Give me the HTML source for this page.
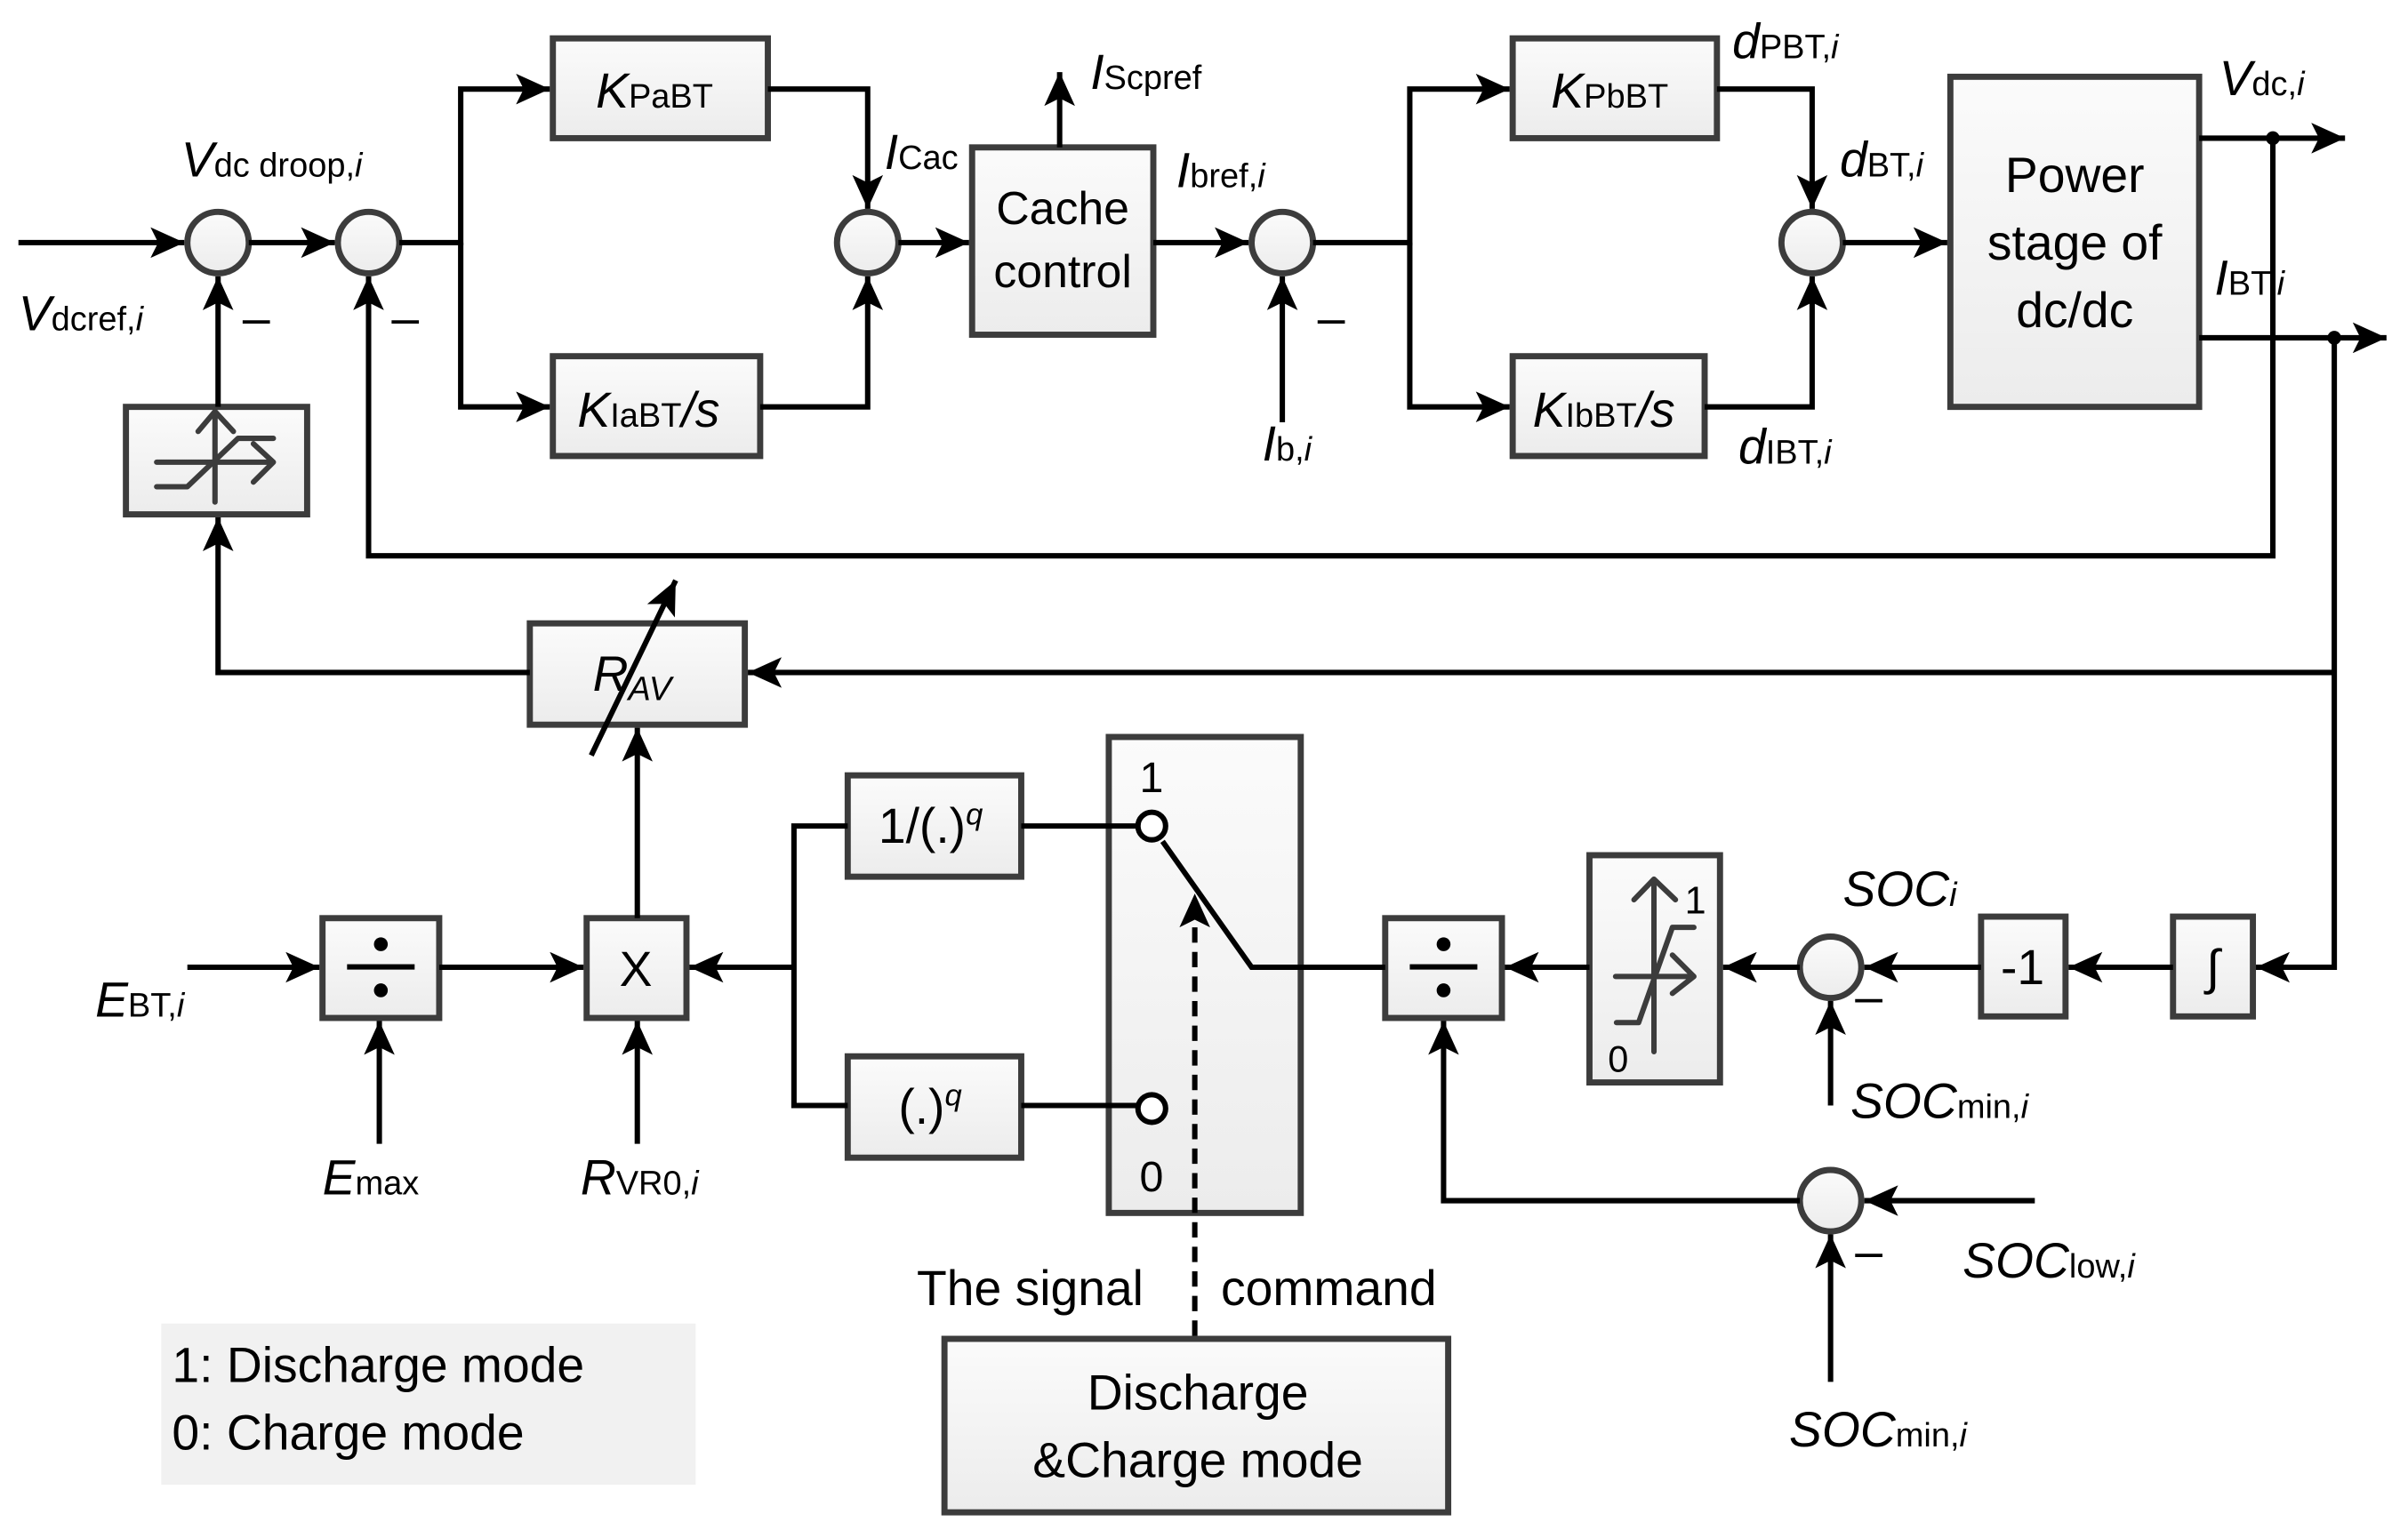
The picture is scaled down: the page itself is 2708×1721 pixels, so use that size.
<!DOCTYPE html>
<html><head><meta charset="utf-8"><style>
html,body{margin:0;padding:0;background:#fff;}
svg{display:block;}
text{font-family:"Liberation Sans",sans-serif;fill:#000;}
.v{font-style:italic;}
</style></head><body>
<svg width="2708" height="1721" viewBox="0 0 1568 996.5" xmlns="http://www.w3.org/2000/svg">
<defs>
<marker id="a" markerUnits="userSpaceOnUse" markerWidth="24" markerHeight="20" refX="22" refY="10" orient="auto"><path d="M0,0 L22,10 L0,20 L5,10 Z" fill="#000"/></marker>
<linearGradient id="g" x1="0" y1="0" x2="0" y2="1"><stop offset="0" stop-color="#fbfbfb"/><stop offset="1" stop-color="#ececec"/></linearGradient>
</defs>
<g fill="url(#g)" stroke="#3c3c3c" stroke-width="4">
<rect x="360" y="25" width="140" height="65"/>
<rect x="360" y="232" width="135" height="65"/>
<rect x="633" y="96" width="118" height="122"/>
<rect x="985" y="25" width="133" height="65"/>
<rect x="985" y="232" width="125" height="65"/>
<rect x="1270" y="50" width="162" height="215"/>
<rect x="82" y="265" width="118" height="70"/>
<rect x="345" y="406" width="140" height="66"/>
<rect x="210" y="598" width="76" height="65"/>
<rect x="382" y="598" width="65" height="65"/>
<rect x="552" y="505" width="113" height="66"/>
<rect x="552" y="688" width="113" height="66"/>
<rect x="722" y="480" width="125" height="310"/>
<rect x="902" y="598" width="76" height="65"/>
<rect x="1035" y="557" width="85" height="148"/>
<rect x="1290" y="597" width="55" height="65"/>
<rect x="1415" y="597" width="52" height="65"/>
<rect x="615" y="872" width="328" height="113"/>
<circle cx="142" cy="158" r="20"/><circle cx="240" cy="158" r="20"/>
<circle cx="565" cy="158" r="20"/><circle cx="835" cy="158" r="20"/>
<circle cx="1180" cy="158" r="20"/><circle cx="1192" cy="630" r="20"/>
<circle cx="1192" cy="782" r="20"/>
</g>
<rect x="105" y="862" width="348" height="105" fill="#f1f1f1"/>
<g fill="none" stroke="#000" stroke-width="3.5">
<path d="M12,158H120" marker-end="url(#a)"/>
<path d="M162,158H218" marker-end="url(#a)"/>
<path d="M260,158H300V58H358" marker-end="url(#a)"/>
<path d="M300,158V265H358" marker-end="url(#a)"/>
<path d="M500,58H565V136" marker-end="url(#a)"/>
<path d="M495,265H565V180" marker-end="url(#a)"/>
<path d="M585,158H631" marker-end="url(#a)"/>
<path d="M690,96V47" marker-end="url(#a)"/>
<path d="M751,158H813" marker-end="url(#a)"/>
<path d="M835,275V180" marker-end="url(#a)"/>
<path d="M855,158H918V58H983" marker-end="url(#a)"/>
<path d="M918,158V265H983" marker-end="url(#a)"/>
<path d="M1118,58H1180V136" marker-end="url(#a)"/>
<path d="M1110,265H1180V180" marker-end="url(#a)"/>
<path d="M1200,158H1268" marker-end="url(#a)"/>
<path d="M1432,90H1527" marker-end="url(#a)"/>
<path d="M1432,220H1554" marker-end="url(#a)"/>
<path d="M1480,90V362H240V180" marker-end="url(#a)"/>
<path d="M1520,220V630H1469" marker-end="url(#a)"/>
<path d="M1520,438H487" marker-end="url(#a)"/>
<path d="M345,438H142V337" marker-end="url(#a)"/>
<path d="M142,265V180" marker-end="url(#a)"/>
<path d="M385,492L440,378" marker-end="url(#a)"/>
<path d="M122,630H208" marker-end="url(#a)"/>
<path d="M247,745V665" marker-end="url(#a)"/>
<path d="M286,630H380" marker-end="url(#a)"/>
<path d="M415,745V665" marker-end="url(#a)"/>
<path d="M415,598V474" marker-end="url(#a)"/>
<path d="M517,630H449" marker-end="url(#a)"/>
<path d="M552,538H517V720H552"/>
<path d="M665,538H741M665,720H741"/>
<path d="M757,548L815,630H902"/>
<path d="M778,870V582" stroke-dasharray="10,6" marker-end="url(#a)"/>
<path d="M1035,630H980" marker-end="url(#a)"/>
<path d="M1172,630H1122" marker-end="url(#a)"/>
<path d="M1290,630H1214" marker-end="url(#a)"/>
<path d="M1415,630H1347" marker-end="url(#a)"/>
<path d="M1192,720V652" marker-end="url(#a)"/>
<path d="M1325,782H1214" marker-end="url(#a)"/>
<path d="M1192,900V804" marker-end="url(#a)"/>
<path d="M1172,782H940V665" marker-end="url(#a)"/>
</g>
<circle cx="750" cy="538" r="9" fill="#fff" stroke="#000" stroke-width="3.5"/>
<circle cx="750" cy="722" r="9" fill="#fff" stroke="#000" stroke-width="3.5"/>
<circle cx="1480" cy="90" r="4.5" fill="#000"/><circle cx="1520" cy="220" r="4.5" fill="#000"/>
<!-- saturation icons -->
<g fill="none" stroke="#3c3c3c" stroke-width="3.5" stroke-linecap="round" stroke-linejoin="round">
<path d="M140,327V268M129,281L140,268L152,281M102,301H178M165,289L178,301L165,314M102,317H122L155,285.5H178"/>
<path d="M1077,685V572.6M1064,586L1077,572.6L1091,586M1052,636H1103M1089,622L1103,636L1089,647M1052.6,666H1067L1089,604H1103"/>
</g>
<!-- divide symbols -->
<g fill="#000"><rect x="226" y="628" width="44" height="3.5"/><circle cx="248" cy="615" r="4.5"/><circle cx="248" cy="645" r="4.5"/>
<rect x="918" y="628" width="44" height="3.5"/><circle cx="940" cy="615" r="4.5"/><circle cx="940" cy="645" r="4.5"/></g>
<g font-size="32">
<text x="388" y="70" class="v">K<tspan font-size="22" font-style="normal">PaBT</tspan></text>
<text x="376" y="278" class="v">K<tspan font-size="22" font-style="normal">IaBT</tspan>/s</text>
<text x="1010" y="70" class="v">K<tspan font-size="22" font-style="normal">PbBT</tspan></text>
<text x="998" y="278" class="v">K<tspan font-size="22" font-style="normal">IbBT</tspan>/s</text>
<text x="692" y="146" text-anchor="middle" font-size="30">Cache</text>
<text x="692" y="187" text-anchor="middle" font-size="30">control</text>
<text x="1351" y="125" text-anchor="middle">Power</text>
<text x="1351" y="169" text-anchor="middle">stage of</text>
<text x="1351" y="213" text-anchor="middle">dc/dc</text>
<text x="386" y="450" class="v">R<tspan font-size="22" dy="6">AV</tspan></text>
<text x="414" y="642" text-anchor="middle">X</text>
<text x="572" y="549">1/(.)<tspan font-size="20" dy="-12" class="v">q</tspan></text>
<text x="585" y="732">(.)<tspan font-size="20" dy="-12" class="v">q</tspan></text>
<text x="1317" y="641" text-anchor="middle">-1</text>
<text x="1441" y="641" text-anchor="middle">∫</text>
<text x="742" y="516" font-size="28">1</text>
<text x="742" y="776" font-size="28">0</text>
<text x="1097" y="595" font-size="25">1</text>
<text x="1047" y="698" font-size="24">0</text>
<text x="780" y="918" text-anchor="middle">Discharge</text>
<text x="780" y="962" text-anchor="middle">&amp;Charge mode</text>
<text x="597" y="850">The signal</text>
<text x="795" y="850">command</text>
<text x="112" y="900">1: Discharge mode</text>
<text x="112" y="944">0: Charge mode</text>
<text x="118" y="115" class="v">V<tspan font-size="22" font-style="normal">dc droop,</tspan><tspan font-size="22">i</tspan></text>
<text x="12" y="215" class="v">V<tspan font-size="22" font-style="normal">dcref,</tspan><tspan font-size="22">i</tspan></text>
<text x="576" y="110" class="v">I<tspan font-size="22" font-style="normal">Cac</tspan></text>
<text x="710" y="58" class="v">I<tspan font-size="22" font-style="normal">Scpref</tspan></text>
<text x="766" y="122" class="v">I<tspan font-size="22" font-style="normal">bref,</tspan><tspan font-size="22">i</tspan></text>
<text x="822" y="300" class="v">I<tspan font-size="22" font-style="normal">b,</tspan><tspan font-size="22">i</tspan></text>
<text x="1128" y="38" class="v">d<tspan font-size="22" font-style="normal">PBT,</tspan><tspan font-size="22">i</tspan></text>
<text x="1198" y="115" class="v">d<tspan font-size="22" font-style="normal">BT,</tspan><tspan font-size="22">i</tspan></text>
<text x="1132" y="302" class="v">d<tspan font-size="22" font-style="normal">IBT,</tspan><tspan font-size="22">i</tspan></text>
<text x="1445" y="62" class="v">V<tspan font-size="22" font-style="normal">dc,</tspan><tspan font-size="22">i</tspan></text>
<text x="1442" y="192" class="v">I<tspan font-size="22" font-style="normal">BT,</tspan><tspan font-size="22">i</tspan></text>
<text x="62" y="662" class="v">E<tspan font-size="22" font-style="normal">BT,</tspan><tspan font-size="22">i</tspan></text>
<text x="210" y="778" class="v">E<tspan font-size="22" font-style="normal">max</tspan></text>
<text x="378" y="778" class="v">R<tspan font-size="22" font-style="normal">VR0,</tspan><tspan font-size="22">i</tspan></text>
<text x="1200" y="590" class="v">SOC<tspan font-size="22">i</tspan></text>
<text x="1205" y="728" class="v">SOC<tspan font-size="22" font-style="normal">min,</tspan><tspan font-size="22">i</tspan></text>
<text x="1278" y="832" class="v">SOC<tspan font-size="22" font-style="normal">low,</tspan><tspan font-size="22">i</tspan></text>
<text x="1165" y="942" class="v">SOC<tspan font-size="22" font-style="normal">min,</tspan><tspan font-size="22">i</tspan></text>
<text x="158" y="218">–</text><text x="255" y="218">–</text>
<text x="858" y="218">–</text><text x="1208" y="660">–</text><text x="1208" y="826">–</text>
</g>
</svg>
</body></html>
